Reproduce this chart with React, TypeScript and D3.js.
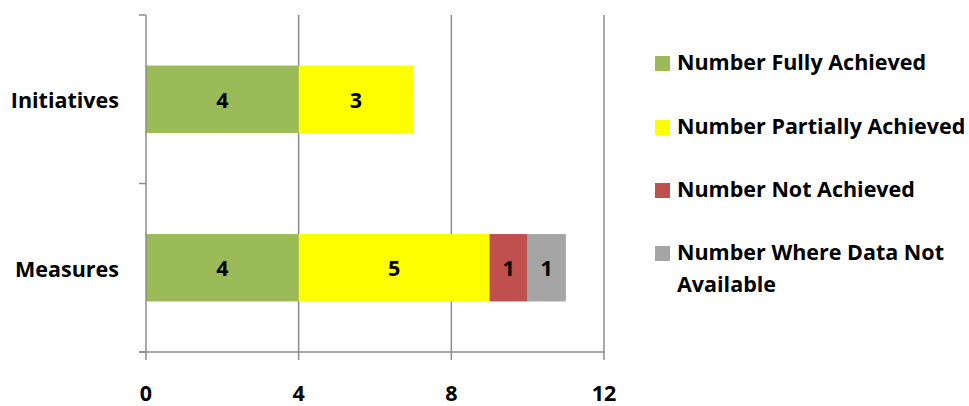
import React from "react";
import * as d3 from "d3";

const categories = ["Initiatives", "Measures"];
const seriesNames = [
  "Number Fully Achieved",
  "Number Partially Achieved",
  "Number Not Achieved",
  "Number Where Data Not Available",
];
const fullyAchieved = [4, 4];
const partiallyAchieved = [3, 5];
const notAchieved = [0, 1];
const dataNotAvailable = [0, 1];
const xTicks = [0, 4, 8, 12];
const colors = ["#9BBB59", "#FFFF00", "#C0504D", "#A5A5A5"];

const W = 969;
const H = 406;
const font = "'Open Sans', sans-serif";
const fs = 21.5;
const capShift = fs * 0.357;

export default function App() {
  const x = d3.scaleLinear().domain([0, 12]).range([146, 604]);
  const y = d3.scaleBand().domain(categories).range([15, 352]).paddingInner(0.6).paddingOuter(0.3);
  const yb = d3.scaleBand().domain(categories).range([15, 352]);
  const series = [fullyAchieved, partiallyAchieved, notAchieved, dataNotAvailable];

  const rows = categories.map((c, i) => {
    let acc = 0;
    return series.map((s, k) => {
      const v = s[i];
      const seg = { k, v, x0: acc, x1: acc + v };
      acc += v;
      return seg;
    });
  });

  const legendRows = [
    { lines: ["Number Fully Achieved"], y: 62 },
    { lines: ["Number Partially Achieved"], y: 126 },
    { lines: ["Number Not Achieved"], y: 189 },
    { lines: ["Number Where Data Not", "Available"], y: 252 },
  ];

  const bandBounds = [15, ...categories.map((c) => (yb(c) as number) + yb.bandwidth())];

  return (
    <svg width={W} height={H} style={{ position: "absolute", left: 0, top: 0, background: "#fff" }}>
      {xTicks.slice(1).map((t) => (
        <line key={t} x1={x(t)} x2={x(t)} y1={15} y2={360} stroke="#8C8C8C" strokeWidth={1.5} />
      ))}
      {rows.map((segs, i) =>
        segs
          .filter((s) => s.v > 0)
          .map((s) => (
            <g key={`${i}-${s.k}`}>
              <rect
                x={x(s.x0)}
                y={y(categories[i])}
                width={x(s.x1) - x(s.x0)}
                height={y.bandwidth()}
                fill={colors[s.k]}
              />
              <text
                x={(x(s.x0) + x(s.x1)) / 2}
                y={(y(categories[i]) as number) + y.bandwidth() / 2 + 1 + capShift}
                textAnchor="middle"
                fontFamily={font}
                fontWeight="bold"
                fontSize={fs}
                fill="#000"
              >
                {s.v}
              </text>
            </g>
          ))
      )}
      <line x1={x(0)} x2={x(0)} y1={15} y2={360} stroke="#8C8C8C" strokeWidth={1.5} />
      <line x1={139} x2={x(12)} y1={352} y2={352} stroke="#8C8C8C" strokeWidth={1.5} />
      {bandBounds.map((b, i) => (
        <line key={i} x1={139} x2={x(0)} y1={b} y2={b} stroke="#8C8C8C" strokeWidth={1.5} />
      ))}
      {xTicks.map((t) => (
        <text
          key={t}
          x={x(t)}
          y={393 + capShift}
          textAnchor="middle"
          fontFamily={font}
          fontWeight="bold"
          fontSize={fs}
          fill="#000"
        >
          {t}
        </text>
      ))}
      {categories.map((c) => (
        <text
          key={c}
          x={119}
          y={(y(c) as number) + y.bandwidth() / 2 + 1.5 + capShift}
          textAnchor="end"
          fontFamily={font}
          fontWeight="bold"
          fontSize={fs}
          fill="#000"
        >
          {c}
        </text>
      ))}
      {legendRows.map((r, i) => (
        <g key={seriesNames[i]}>
          <rect x={655} y={r.y - 6} width={15} height={15} fill={colors[i]} />
          {r.lines.map((ln, j) => (
            <text
              key={j}
              x={677}
              y={r.y + j * 32 + capShift}
              fontFamily={font}
              fontWeight="bold"
              fontSize={fs}
              fill="#000"
            >
              {ln}
            </text>
          ))}
        </g>
      ))}
    </svg>
  );
}
